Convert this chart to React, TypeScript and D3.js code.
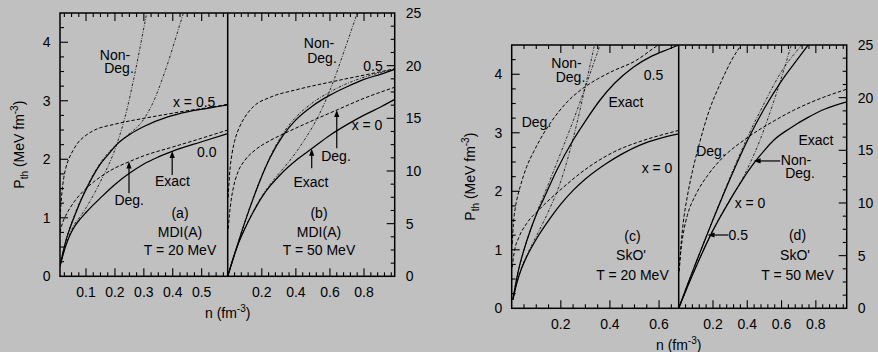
import React from "react";
import * as d3 from "d3";

type Pt = [number, number];

// ---------------- Panel (a): MDI(A), T = 20 MeV  (P_th in MeV fm^-3) ----------------
const aExact05: Pt[] = [[0.01,0.17],[0.02,0.4],[0.03,0.6],[0.045,0.83],[0.062,1.05],[0.08,1.27],[0.1,1.48],[0.125,1.72],[0.15,1.92],[0.18,2.1],[0.206,2.25],[0.25,2.42],[0.3,2.56],[0.38,2.72],[0.45,2.81],[0.52,2.87],[0.59,2.93]];
const aExact0: Pt[] = [[0.01,0.17],[0.02,0.36],[0.03,0.52],[0.045,0.71],[0.06,0.85],[0.08,0.98],[0.1,1.09],[0.125,1.22],[0.15,1.34],[0.2,1.57],[0.25,1.76],[0.3,1.92],[0.35,2.04],[0.4,2.14],[0.5,2.3],[0.59,2.44]];
const aDeg05: Pt[] = [[0.01,1.0],[0.013,1.2],[0.017,1.45],[0.022,1.65],[0.03,1.85],[0.04,2.0],[0.055,2.15],[0.07,2.27],[0.1,2.41],[0.13,2.5],[0.2,2.6],[0.3,2.7],[0.38,2.77],[0.45,2.83],[0.52,2.88],[0.59,2.94]];
const aDeg0: Pt[] = [[0.01,0.75],[0.015,0.85],[0.02,0.93],[0.03,1.04],[0.045,1.17],[0.06,1.28],[0.08,1.4],[0.1,1.5],[0.15,1.7],[0.2,1.85],[0.25,1.96],[0.3,2.06],[0.4,2.21],[0.5,2.36],[0.59,2.5]];
const aNonDeg05: Pt[] = [[0.01,0.18],[0.03,0.61],[0.062,1.07],[0.1,1.5],[0.15,1.94],[0.2,2.23],[0.25,2.44],[0.29,2.62],[0.33,2.95],[0.373,3.5],[0.437,4.5],[0.45,4.7]];
const aNonDeg0: Pt[] = [[0.01,0.18],[0.03,0.53],[0.06,0.89],[0.08,1.02],[0.1,1.17],[0.15,1.62],[0.206,2.25],[0.24,2.82],[0.264,3.35],[0.31,4.5],[0.32,4.75]];

// ---------------- Panel (b): MDI(A), T = 50 MeV  (right axis units) ----------------
const bExact05: Pt[] = [[0,0],[0.05,2.6],[0.1,5.1],[0.15,7.4],[0.19,9.1],[0.25,11.3],[0.326,13.4],[0.4,14.85],[0.5,16.2],[0.6,17.2],[0.7,18.0],[0.8,18.7],[0.9,19.2],[0.98,19.65]];
const bExact0: Pt[] = [[0,0],[0.03,1.6],[0.06,3.0],[0.1,4.5],[0.15,6.1],[0.2,7.5],[0.25,8.6],[0.3,9.5],[0.35,10.3],[0.4,11.0],[0.5,12.2],[0.6,13.4],[0.7,14.4],[0.8,15.3],[0.9,16.1],[0.98,16.8]];
const bDeg05: Pt[] = [[0.003,7.5],[0.008,9.0],[0.015,10.4],[0.025,11.6],[0.04,12.8],[0.07,14.2],[0.1,15.1],[0.15,16.1],[0.25,17.0],[0.4,17.7],[0.62,18.5],[0.8,19.1],[0.98,19.7]];
const bDeg0: Pt[] = [[0.003,4.5],[0.01,5.8],[0.02,7.2],[0.033,8.4],[0.06,9.9],[0.1,11.0],[0.162,12.0],[0.25,12.9],[0.338,13.6],[0.5,14.8],[0.642,15.8],[0.8,16.9],[0.98,17.95]];
const bNonDeg05: Pt[] = [[0,0],[0.05,2.62],[0.1,5.15],[0.15,7.45],[0.19,9.15],[0.25,11.4],[0.326,13.6],[0.4,15.1],[0.5,16.5],[0.6,17.5],[0.7,18.3],[0.8,18.9],[0.9,19.35],[0.98,19.7]];
const bNonDeg0: Pt[] = [[0,0],[0.03,1.62],[0.06,3.02],[0.1,4.55],[0.15,6.17],[0.2,7.6],[0.25,8.75],[0.3,9.75],[0.35,10.7],[0.4,11.75],[0.45,12.95],[0.5,14.25],[0.55,15.8],[0.62,18.5],[0.69,21.7],[0.76,25],[0.78,26]];

// ---------------- Panel (c): SkO', T = 20 MeV  (P_th in MeV fm^-3) ----------------
const cExact05: Pt[] = [[0.005,0.15],[0.02,0.5],[0.035,0.78],[0.05,1.0],[0.075,1.32],[0.1,1.6],[0.129,1.86],[0.18,2.33],[0.251,2.88],[0.3,3.2],[0.36,3.56],[0.42,3.85],[0.495,4.12],[0.57,4.31],[0.645,4.44],[0.68,4.5]];
const cExact0: Pt[] = [[0.005,0.15],[0.02,0.42],[0.04,0.68],[0.061,0.88],[0.1,1.18],[0.142,1.45],[0.2,1.78],[0.251,2.02],[0.3,2.21],[0.387,2.48],[0.45,2.64],[0.522,2.79],[0.6,2.9],[0.68,2.98]];
const cDeg05: Pt[] = [[0.002,1.1],[0.007,1.45],[0.014,1.7],[0.022,1.88],[0.034,2.07],[0.061,2.42],[0.09,2.68],[0.115,2.88],[0.163,3.2],[0.22,3.5],[0.29,3.76],[0.35,3.92],[0.414,4.06],[0.5,4.22],[0.59,4.48],[0.62,4.56]];
const cDeg0: Pt[] = [[0.002,0.7],[0.01,0.95],[0.03,1.22],[0.061,1.45],[0.115,1.7],[0.197,2.02],[0.319,2.43],[0.42,2.68],[0.522,2.85],[0.6,2.95],[0.68,3.04]];
const cNonDeg05: Pt[] = [[0.005,0.15],[0.02,0.5],[0.05,0.99],[0.1,1.61],[0.15,2.13],[0.2,2.66],[0.25,3.2],[0.298,3.76],[0.36,4.5],[0.37,4.62]];
const cNonDeg0: Pt[] = [[0.005,0.15],[0.02,0.43],[0.04,0.69],[0.061,0.9],[0.1,1.23],[0.15,1.66],[0.194,2.1],[0.25,2.9],[0.298,3.76],[0.337,4.5],[0.345,4.66]];

// ---------------- Panel (d): SkO', T = 50 MeV  (right axis units) ----------------
const dExact05: Pt[] = [[0,0],[0.05,2.2],[0.1,4.3],[0.2,8.4],[0.3,12.3],[0.4,15.9],[0.5,19.0],[0.6,21.6],[0.7,23.8],[0.76,25.1]];
const dExact0: Pt[] = [[0,0],[0.05,2.0],[0.1,3.9],[0.2,7.4],[0.3,10.3],[0.368,12.1],[0.44,13.8],[0.5,15.0],[0.557,16.0],[0.65,17.1],[0.752,18.1],[0.85,18.9],[0.98,19.6]];
const dDeg05: Pt[] = [[0.003,4.0],[0.008,4.9],[0.015,6.3],[0.027,8.2],[0.05,10.6],[0.08,13.0],[0.12,15.6],[0.168,18.3],[0.25,21.6],[0.31,23.6],[0.37,25.2],[0.38,25.5]];
const dDeg0: Pt[] = [[0.003,3.5],[0.01,5.0],[0.03,7.4],[0.05,8.8],[0.1,10.8],[0.168,12.6],[0.25,14.2],[0.392,16.1],[0.557,17.8],[0.67,18.8],[0.8,19.75],[0.98,20.8]];
const dNonDeg05: Pt[] = [[0,0],[0.1,4.32],[0.2,8.45],[0.3,12.45],[0.4,16.2],[0.5,19.5],[0.6,22.5],[0.716,25.0],[0.73,25.3]];
const dNonDeg0: Pt[] = [[0,0],[0.1,3.92],[0.2,7.43],[0.3,10.35],[0.368,12.2],[0.42,13.9],[0.47,15.8],[0.52,18.0],[0.57,20.4],[0.62,23.0],[0.657,25],[0.665,25.4]];

// ---------------- tick labels ----------------
const xLabelsA = [0.1, 0.2, 0.3, 0.4, 0.5];
const xLabelsB = [0.2, 0.4, 0.6, 0.8];
const xLabelsC = [0.2, 0.4, 0.6];
const xLabelsD = [0.2, 0.4, 0.6, 0.8];
const yLabelsLeft = [0, 1, 2, 3, 4];
const yLabelsRight = [0, 5, 10, 15, 20, 25];

// minor tick steps
const xMinorA = d3.range(1, 24).map((i) => +(i * 0.025).toFixed(4));
const xMinorB = d3.range(1, 25).map((i) => +(i * 0.04).toFixed(4));
const xMinorC = d3.range(1, 14).map((i) => +(i * 0.05).toFixed(4));
const yMinorLeft = d3.range(1, 18).map((i) => i * 0.25);
const yMinorRight = d3.range(1, 20).map((i) => i * 1.25);

// arrows (tip and tail in data units)
const arrowsA = [
  { tip: [0.398, 2.14] as Pt, tail: [0.398, 1.73] as Pt },
  { tip: [0.2486, 1.96] as Pt, tail: [0.2486, 1.42] as Pt },
];
const arrowsB = [
  { tip: [0.64, 15.8] as Pt, tail: [0.64, 12.16] as Pt },
  { tip: [0.493, 12.1] as Pt, tail: [0.493, 10.26] as Pt },
];
const arrowsC: { tip: Pt; tail: Pt }[] = [];
const arrowsD = [
  { tip: [0.437, 13.99] as Pt, tail: [0.592, 13.99] as Pt },
  { tip: [0.168, 6.96] as Pt, tail: [0.29, 6.96] as Pt },
];

const FONT = '"Liberation Sans", Arial, Helvetica, sans-serif';
const BG = "#c0c0c0";

type Kind = "exact" | "deg" | "nondeg";
const styleOf: Record<Kind, { w: number; dash?: string; c: string }> = {
  exact: { w: 1.25, c: "#000" },
  deg: { w: 1.0, dash: "3.5,2", c: "#000" },
  nondeg: { w: 0.9, dash: "2.5,1.5,0.8,1.5", c: "#111" },
};

const pairs = [
  { top: 13, bottom: 276.3, left: 60, mid: 227.7, right: 394.7 },
  { top: 45, bottom: 308.3, left: 511.7, mid: 678.7, right: 846.7 },
];

type Label = { x: number; y: number; t: string };
const labels: Label[] = [
  // (a)
  { x: 115, y: 59.5, t: "Non-" }, { x: 119, y: 72.5, t: "Deg." },
  { x: 194.2, y: 107, t: "x = 0.5" }, { x: 206.7, y: 156.5, t: "0.0" },
  { x: 172.5, y: 185.5, t: "Exact" }, { x: 129.2, y: 205, t: "Deg." },
  { x: 180, y: 218, t: "(a)" }, { x: 180, y: 236.5, t: "MDI(A)" }, { x: 180, y: 255, t: "T = 20 MeV" },
  // (b)
  { x: 319, y: 48.3, t: "Non-" }, { x: 322, y: 63, t: "Deg." },
  { x: 373, y: 70.5, t: "0.5" }, { x: 367, y: 130, t: "x = 0" },
  { x: 336, y: 160.5, t: "Deg." }, { x: 311, y: 186.5, t: "Exact" },
  { x: 319, y: 218, t: "(b)" }, { x: 319, y: 236.5, t: "MDI(A)" }, { x: 319, y: 255, t: "T = 50 MeV" },
  // (c)
  { x: 566.5, y: 68.3, t: "Non-" }, { x: 570.5, y: 81.7, t: "Deg." },
  { x: 653.5, y: 79.5, t: "0.5" }, { x: 626, y: 107, t: "Exact" },
  { x: 536.5, y: 127, t: "Deg." }, { x: 657, y: 173.3, t: "x = 0" },
  { x: 632.5, y: 241, t: "(c)" }, { x: 631, y: 260, t: "SkO'" }, { x: 632.5, y: 279.5, t: "T = 20 MeV" },
  // (d)
  { x: 711, y: 155.8, t: "Deg." }, { x: 816, y: 145, t: "Exact" },
  { x: 796, y: 165, t: "Non-" }, { x: 800, y: 177.8, t: "Deg." },
  { x: 750, y: 208.3, t: "x = 0" }, { x: 738.3, y: 240, t: "0.5" },
  { x: 797.5, y: 240, t: "(d)" }, { x: 795, y: 260, t: "SkO'" }, { x: 797.5, y: 280, t: "T = 50 MeV" },
];

const panels = [
  { id: "a", pair: 0, side: "L", xDomain: [0.01, 0.59], yMax: 4.5,
    curves: [["nondeg", aNonDeg05], ["nondeg", aNonDeg0], ["deg", aDeg05], ["deg", aDeg0], ["exact", aExact05], ["exact", aExact0]] as [Kind, Pt[]][],
    xMinor: xMinorA, xLabels: xLabelsA, arrows: arrowsA },
  { id: "b", pair: 0, side: "R", xDomain: [0, 0.98], yMax: 25,
    curves: [["nondeg", bNonDeg05], ["nondeg", bNonDeg0], ["deg", bDeg05], ["deg", bDeg0], ["exact", bExact05], ["exact", bExact0]] as [Kind, Pt[]][],
    xMinor: xMinorB, xLabels: xLabelsB, arrows: arrowsB },
  { id: "c", pair: 1, side: "L", xDomain: [0, 0.68], yMax: 4.5,
    curves: [["nondeg", cNonDeg05], ["nondeg", cNonDeg0], ["deg", cDeg05], ["deg", cDeg0], ["exact", cExact05], ["exact", cExact0]] as [Kind, Pt[]][],
    xMinor: xMinorC, xLabels: xLabelsC, arrows: arrowsC },
  { id: "d", pair: 1, side: "R", xDomain: [0, 0.98], yMax: 25,
    curves: [["nondeg", dNonDeg05], ["nondeg", dNonDeg0], ["deg", dDeg05], ["deg", dDeg0], ["exact", dExact05], ["exact", dExact0]] as [Kind, Pt[]][],
    xMinor: xMinorB, xLabels: xLabelsD, arrows: arrowsD },
];

const isMajor = (v: number, list: number[]) => list.some((m) => Math.abs(m - v) < 1e-6);

export default function App() {
  const els: React.ReactNode[] = [];

  panels.forEach((p) => {
    const g = pairs[p.pair];
    const x0 = p.side === "L" ? g.left : g.mid;
    const x1 = p.side === "L" ? g.mid : g.right;
    const xs = d3.scaleLinear().domain(p.xDomain).range([x0, x1]);
    const ys = d3.scaleLinear().domain([0, p.yMax]).range([g.bottom, g.top]);
    const line = d3
      .line<Pt>()
      .x((d) => xs(d[0]))
      .y((d) => ys(d[1]))
      .curve(d3.curveMonotoneX);

    els.push(
      <clipPath id={`clip-${p.id}`} key={`cp-${p.id}`}>
        <rect x={x0} y={g.top} width={x1 - x0} height={g.bottom - g.top} />
      </clipPath>
    );
    els.push(
      <g key={`curves-${p.id}`} clipPath={`url(#clip-${p.id})`}>
        {p.curves.map(([k, pts], i) => {
          const s = styleOf[k];
          return (
            <path key={i} d={line(pts) || ""} fill="none" stroke={s.c} strokeWidth={s.w}
              strokeDasharray={s.dash} strokeLinejoin="round" />
          );
        })}
      </g>
    );

    // x ticks (bottom & top)
    p.xMinor.forEach((t, i) => {
      const x = xs(t);
      const len = isMajor(t, p.xLabels) ? 8 : 4;
      els.push(<line key={`xb-${p.id}-${i}`} x1={x} x2={x} y1={g.bottom} y2={g.bottom - len} stroke="#000" strokeWidth={1.1} />);
      els.push(<line key={`xt-${p.id}-${i}`} x1={x} x2={x} y1={g.top} y2={g.top + len} stroke="#000" strokeWidth={1.1} />);
    });
    p.xLabels.forEach((t, i) => {
      els.push(
        <text key={`xl-${p.id}-${i}`} x={xs(t)} y={g.bottom + 21} textAnchor="middle" fontSize={14}>
          {t.toFixed(1)}
        </text>
      );
    });

    // y ticks
    if (p.side === "L") {
      yMinorLeft.forEach((v, i) => {
        const y = ys(v);
        const len = Math.abs(v - Math.round(v)) < 1e-6 ? 8 : 4;
        els.push(<line key={`yl-${p.id}-${i}`} x1={g.left} x2={g.left + len} y1={y} y2={y} stroke="#000" strokeWidth={1.1} />);
      });
      yLabelsLeft.forEach((v, i) => {
        els.push(
          <text key={`ylt-${p.id}-${i}`} x={g.left - 9.5} y={ys(v) + 5} textAnchor="end" fontSize={14}>
            {v}
          </text>
        );
      });
    } else {
      yMinorRight.forEach((v, i) => {
        const y = ys(v);
        const len = Math.abs(v / 5 - Math.round(v / 5)) < 1e-6 ? 8 : 4;
        els.push(<line key={`yr-${p.id}-${i}`} x1={g.right} x2={g.right - len} y1={y} y2={y} stroke="#000" strokeWidth={1.1} />);
      });
      yLabelsRight.forEach((v, i) => {
        els.push(
          <text key={`yrt-${p.id}-${i}`} x={g.right + 11} y={ys(v) + 5} textAnchor="start" fontSize={14}>
            {v}
          </text>
        );
      });
    }

    // arrows
    p.arrows.forEach((a, i) => {
      const tx = xs(a.tip[0]), ty = ys(a.tip[1]);
      const sx = xs(a.tail[0]), sy = ys(a.tail[1]);
      const dx = tx - sx, dy = ty - sy;
      const L = Math.hypot(dx, dy) || 1;
      const ux = dx / L, uy = dy / L;
      const hl = 7, hw = 2.6;
      const bx = tx - ux * hl, by = ty - uy * hl;
      const head = `M${tx},${ty}L${bx - uy * hw},${by + ux * hw}L${bx + uy * hw},${by - ux * hw}Z`;
      els.push(<line key={`al-${p.id}-${i}`} x1={sx} y1={sy} x2={bx + ux * 2} y2={by + uy * 2} stroke="#000" strokeWidth={1.2} />);
      els.push(<path key={`ah-${p.id}-${i}`} d={head} fill="#000" />);
    });
  });

  // frames
  pairs.forEach((g, i) => {
    els.push(
      <rect key={`fr-${i}`} x={g.left} y={g.top} width={g.right - g.left} height={g.bottom - g.top}
        fill="none" stroke="#000" strokeWidth={1.5} />
    );
    els.push(<line key={`dv-${i}`} x1={g.mid} x2={g.mid} y1={g.top} y2={g.bottom} stroke="#000" strokeWidth={1.5} />);

    // axis titles
    const cy = (g.top + g.bottom) / 2;
    const tx = g.left - 36.5;
    els.push(
      <text key={`yt-${i}`} transform={`translate(${tx},${cy}) rotate(-90)`} textAnchor="middle" fontSize={14}>
        P<tspan fontSize={10} dy={4}>th</tspan>
        <tspan dy={-4}> (MeV fm</tspan>
        <tspan fontSize={10} dy={-6}>-3</tspan>
        <tspan dy={6}>)</tspan>
      </text>
    );
    els.push(
      <text key={`xt-${i}`} x={g.mid} y={g.bottom + 41.5} textAnchor="middle" fontSize={14}>
        n (fm<tspan fontSize={10} dy={-6}>-3</tspan>
        <tspan dy={6}>)</tspan>
      </text>
    );
  });

  labels.forEach((l, i) => {
    els.push(
      <text key={`lab-${i}`} x={l.x} y={l.y} textAnchor="middle" fontSize={14}>
        {l.t}
      </text>
    );
  });

  return (
    <svg width={878} height={352} style={{ position: "absolute", left: 0, top: 0, background: BG }}
      fontFamily={FONT} fill="#000">
      <rect x={0} y={0} width={878} height={352} fill={BG} />
      {els}
    </svg>
  );
}
